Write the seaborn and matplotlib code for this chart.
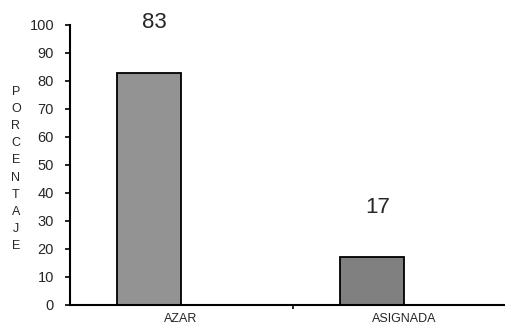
import matplotlib
matplotlib.use("Agg")
import matplotlib.pyplot as plt
import seaborn as sns
from matplotlib.ticker import FixedLocator

categories = ["AZAR", "ASIGNADA"]
values = [83, 17]
value_labels = ["83", "17"]
bar_colors = ["#939393", "#808080"]
y_ticks = list(range(0, 101, 10))
y_title = "PORCENTAJE"

sns.set_style("white")
plt.rcParams["font.family"] = ["Liberation Sans", "DejaVu Sans"]

fig = plt.figure(figsize=(5.05, 3.32), dpi=100)
ax = fig.add_axes([70 / 505, 27 / 332, 435 / 505, 280 / 332])

sns.barplot(
    x=categories,
    y=values,
    hue=categories,
    palette=bar_colors,
    width=0.287,
    edgecolor="black",
    linewidth=1.3,
    legend=False,
    ax=ax,
)

# bars sit left of the category centre, as in the original
for patch in ax.patches:
    patch.set_x(patch.get_x() - 0.1435)
    patch.set_linewidth(1.3)
    patch.set_edgecolor("black")

for patch, lab in zip(ax.patches, value_labels):
    ax.annotate(
        lab,
        (patch.get_x() + patch.get_width() / 2, patch.get_height()),
        xytext=(4, 36),
        textcoords="offset points",
        ha="center",
        va="center",
        fontsize=16,
        annotation_clip=False,
    )

ax.set_xlim(-0.498, 1.452)
ax.set_ylim(0, 100)
ax.set_yticks(y_ticks)
ax.tick_params(axis="y", direction="out", length=3.5, width=1.4, labelsize=10.5, pad=8, left=True)
ax.tick_params(axis="x", which="major", length=0, labelsize=9, pad=6)
ax.xaxis.set_minor_locator(FixedLocator([0.5]))
ax.tick_params(axis="x", which="minor", direction="out", length=3, width=1.4, bottom=True)

sns.despine(ax=ax, top=True, right=True)
for side in ["left", "bottom"]:
    ax.spines[side].set_linewidth(1.5)
    ax.spines[side].set_color("black")

ax.set_xlabel("")
ax.set_ylabel("")
fig.text(16 / 505, 1 - 169 / 332, "\n".join(y_title), ha="center", va="center",
         fontsize=9, linespacing=1.58)

fig.savefig("out.png", dpi=100)
